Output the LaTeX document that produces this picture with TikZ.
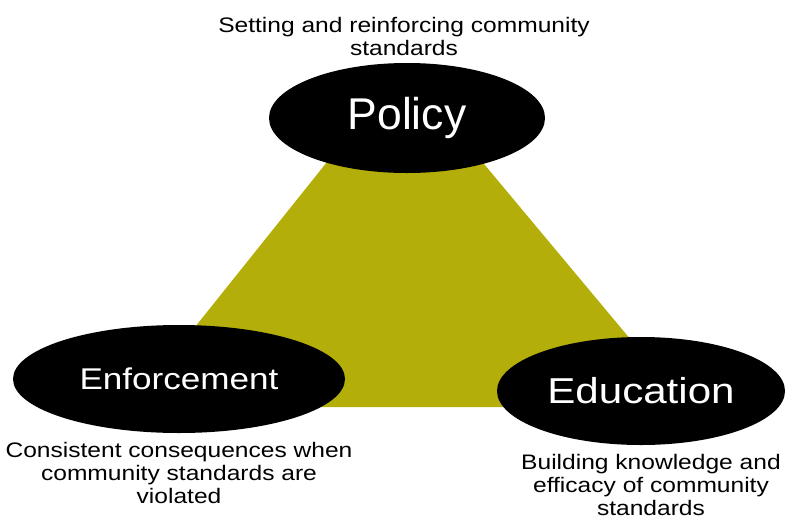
\documentclass[tikz,border=0pt]{standalone}
\usepackage{fontspec}
\setmainfont{Liberation Sans}[FakeStretch=1.17]
\newfontfamily\policyfont{Liberation Sans}
\usepackage{tikz}
\usetikzlibrary{calc,positioning,shapes}
\tikzset{
  pillar/.style = {ellipse, draw=none, fill=black, text=white, inner sep=0pt, align=center},
  pillar_p/.style = {pillar, minimum width=276pt, minimum height=110pt},
  pillar_l/.style = {pillar, minimum width=332pt, minimum height=108pt},
  pillar_r/.style = {pillar, minimum width=288pt, minimum height=108pt},
  note/.style = {align=center, inner sep=0pt, text=black,
  font=\fontsize{21}{23}\selectfont}
}
\definecolor{my_olive}{RGB}{180, 174, 10}

\begin{document}
\begin{tikzpicture}[x=1pt,y=-1pt,
            node distance=8pt,
            wedge/.style={fill=my_olive, draw=none}]
            \useasboundingbox (0,0) rectangle (785,520);
            % the triangle behind the three ellipses
            \coordinate (apex) at (403,67);
            \coordinate (base_l) at (131,407);
            \coordinate (base_r) at (687,407);
            \fill [wedge] (apex) -- (base_l) -- (base_r) -- cycle;
            \node [pillar_p, font=\policyfont\fontsize{44.5}{46}\selectfont] (policy) at (407,118) {Policy};
            \node [pillar_l, font=\fontsize{30}{32}\selectfont] (enforce) at (179,379) {Enforcement};
            \node [pillar_r, font=\fontsize{36}{38}\selectfont] (educate) at (641,391) {Education};
            % captions
            \node [note, above=7pt of policy, xshift=-3pt] (policy_txt) {Setting and reinforcing community\\standards};
            \node [note, below=9pt of enforce] (enforce_txt) {Consistent consequences when\\community standards are\\violated};
            \node [note, below=9pt of educate, xshift=10pt] (educate_txt) {Building knowledge and\\efficacy of community\\standards};
\end{tikzpicture}
\end{document}
